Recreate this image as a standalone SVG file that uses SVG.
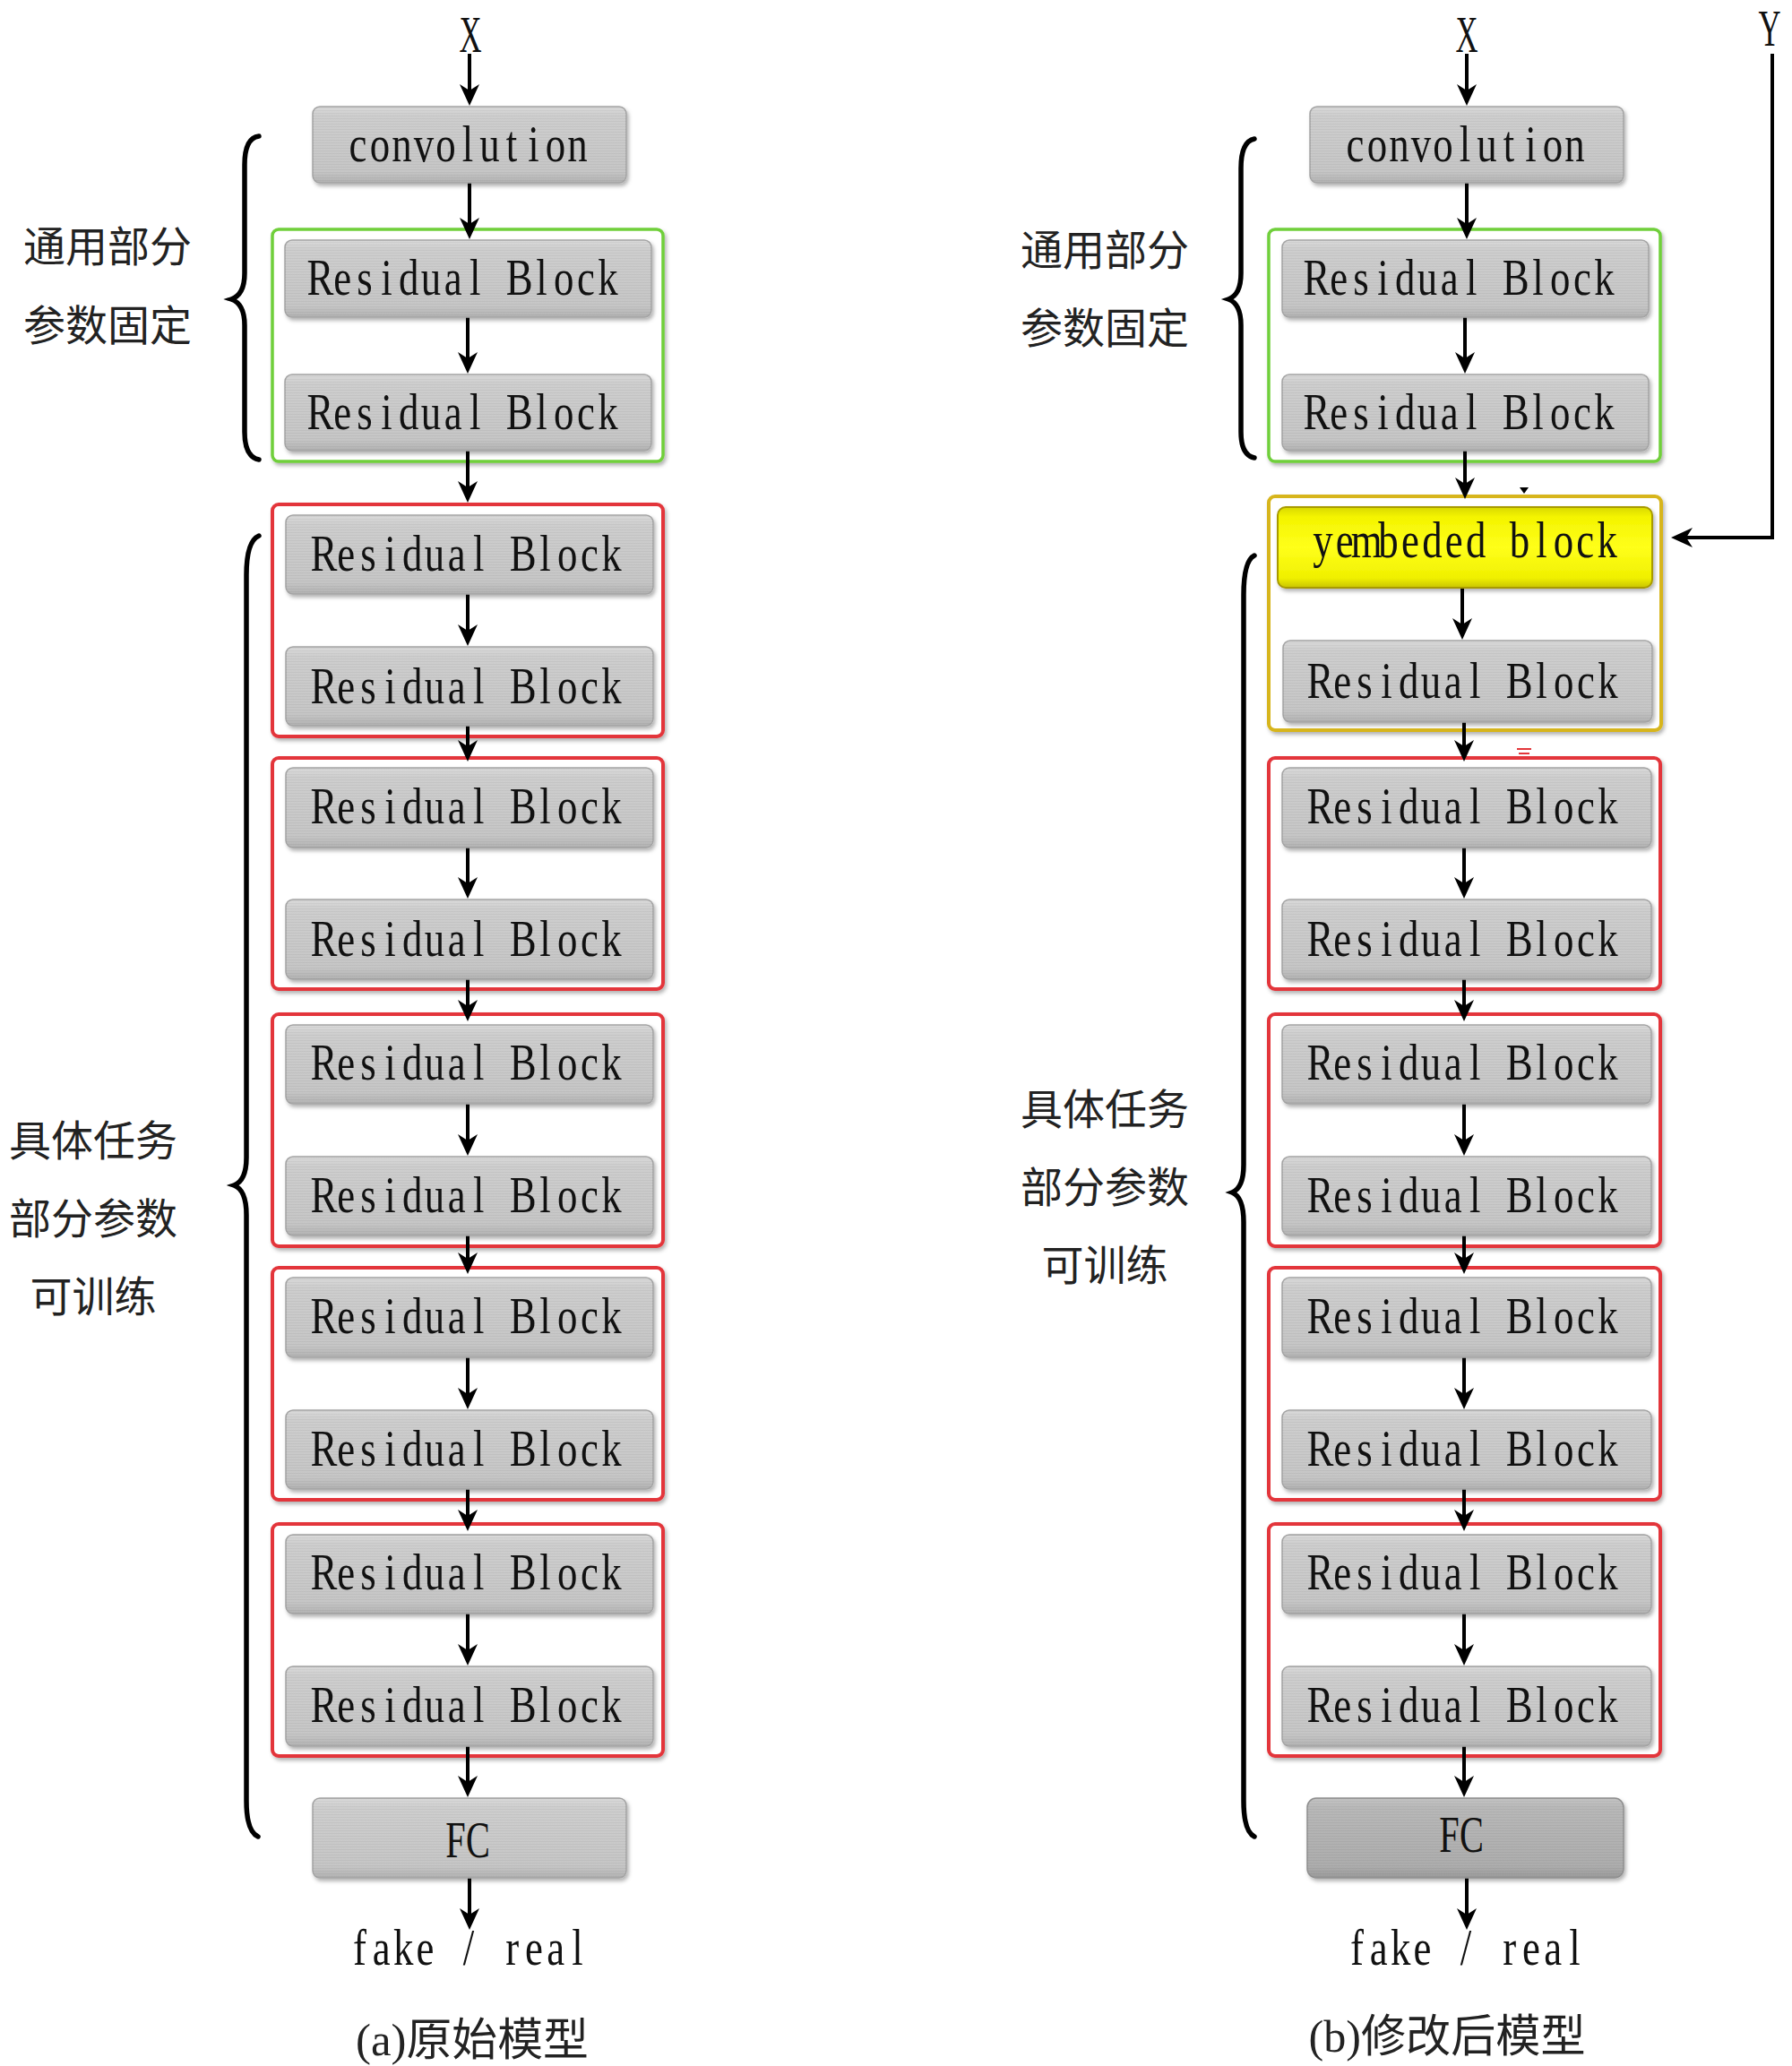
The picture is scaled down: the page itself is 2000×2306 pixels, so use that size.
<svg xmlns="http://www.w3.org/2000/svg" width="2000" height="2306" viewBox="0 0 2000 2306">
<defs>
<linearGradient id="gray" x1="0" y1="0" x2="0" y2="1">
<stop offset="0" stop-color="#dadada"/><stop offset="0.12" stop-color="#cecece"/><stop offset="0.85" stop-color="#c6c6c6"/><stop offset="1" stop-color="#b2b2b2"/>
</linearGradient>
<linearGradient id="gray2" x1="0" y1="0" x2="0" y2="1">
<stop offset="0" stop-color="#c4c4c4"/><stop offset="0.12" stop-color="#b8b8b8"/><stop offset="0.85" stop-color="#adadad"/><stop offset="1" stop-color="#9a9a9a"/>
</linearGradient>
<linearGradient id="yel" x1="0" y1="0" x2="0" y2="1">
<stop offset="0" stop-color="#d8d800"/><stop offset="0.12" stop-color="#f4f400"/><stop offset="0.5" stop-color="#ffff1a"/><stop offset="0.88" stop-color="#f0f000"/><stop offset="1" stop-color="#c8c400"/>
</linearGradient>
<pattern id="stripes" width="4" height="3" patternUnits="userSpaceOnUse"><rect width="4" height="1" fill="#000" opacity="0.045"/></pattern>
<filter id="sh" x="-5%" y="-10%" width="110%" height="125%"><feDropShadow dx="2" dy="3" stdDeviation="2" flood-color="#000" flood-opacity="0.3"/></filter>
<marker id="ah" markerUnits="userSpaceOnUse" markerWidth="24" markerHeight="22" viewBox="0 0 24 22" refX="15" refY="11" orient="auto">
<path d="M0,0 L24,11 L0,22 L7,11 z" fill="#000"/>
</marker>
</defs>
<style>
.box{fill:url(#gray);stroke:#a4a4a4;stroke-width:1.5;filter:url(#sh)}
.box2{fill:url(#gray2);stroke:#909090;stroke-width:1.5;filter:url(#sh)}
.strp{fill:url(#stripes);stroke:none}
.red{fill:#fff;stroke:#e3363b;stroke-width:4;filter:url(#sh)}
.grn{fill:#fff;stroke:#6fcf3a;stroke-width:3.5;filter:url(#sh)}
.gld{fill:#fff;stroke:#d7b51c;stroke-width:4;filter:url(#sh)}
.ybox{fill:url(#yel);stroke:#a89a00;stroke-width:2;filter:url(#sh)}
.m{font-family:"Liberation Serif","DejaVu Serif",serif;font-size:56px;fill:#111;text-anchor:middle}
.cn{font-family:"Noto Sans CJK SC","Liberation Serif",sans-serif;font-size:47px;fill:#222;text-anchor:middle}
.cap{font-family:"Liberation Serif","Noto Sans CJK SC",serif;font-size:50px;fill:#222;text-anchor:middle}
.br{fill:none;stroke:#000;stroke-width:5.5;stroke-linecap:round}
.ar{fill:none;stroke:#000;stroke-width:4;marker-end:url(#ah)}
</style>
<rect width="2000" height="2306" fill="#fff"/>

<!-- frames -->
<g id="frames">
<rect class="grn" x="304" y="256" width="436" height="259" rx="7"/>
<rect class="red" x="304" y="563" width="436" height="259" rx="7"/>
<rect class="red" x="304" y="846" width="436" height="258" rx="7"/>
<rect class="red" x="304" y="1132" width="436" height="259" rx="7"/>
<rect class="red" x="304" y="1415" width="436" height="259" rx="7"/>
<rect class="red" x="304" y="1701" width="436" height="259" rx="7"/>
<rect class="grn" x="1416" y="256" width="437" height="259" rx="7"/>
<rect class="gld" x="1416" y="554" width="438" height="261" rx="7"/>
<rect class="red" x="1416" y="846" width="437" height="258" rx="7"/>
<rect class="red" x="1416" y="1132" width="437" height="259" rx="7"/>
<rect class="red" x="1416" y="1415" width="437" height="259" rx="7"/>
<rect class="red" x="1416" y="1701" width="437" height="259" rx="7"/>
</g>

<!-- braces -->
<g id="braces">
<path class="br" d="M289,152 Q273,154 273,184 L273,305 Q273,329 258,334 Q273,339 273,363 L273,482 Q273,510 289,513"/>
<path class="br" d="M289,598 Q275,604 275,642 L275,1292 Q275,1318 261,1323 Q275,1328 275,1356 L275,2010 Q275,2044 288,2050"/>
<path class="br" d="M1400,155 Q1385,158 1385,188 L1385,305 Q1385,329 1371,334 Q1385,339 1385,363 L1385,482 Q1385,508 1400,511"/>
<path class="br" d="M1400,620 Q1388,626 1388,664 L1388,1300 Q1388,1326 1375,1331 Q1388,1336 1388,1364 L1388,2010 Q1388,2044 1400,2050"/>
</g>

<!-- connectors -->
<g id="connectors">
<line class="ar" x1="524" y1="60" x2="524" y2="109"/>
<line class="ar" x1="524" y1="204" x2="524" y2="258"/>
<line class="ar" x1="522" y1="354" x2="522" y2="408"/>
<line class="ar" x1="522" y1="503" x2="522" y2="552"/>
<line class="ar" x1="522" y1="663" x2="522" y2="712"/>
<line class="ar" x1="522" y1="810" x2="522" y2="841"/>
<line class="ar" x1="522" y1="946" x2="522" y2="994"/>
<line class="ar" x1="522" y1="1093" x2="522" y2="1131"/>
<line class="ar" x1="522" y1="1232" x2="522" y2="1281"/>
<line class="ar" x1="522" y1="1379" x2="522" y2="1413"/>
<line class="ar" x1="522" y1="1515" x2="522" y2="1564"/>
<line class="ar" x1="522" y1="1662" x2="522" y2="1700"/>
<line class="ar" x1="522" y1="1801" x2="522" y2="1850"/>
<line class="ar" x1="522" y1="1949" x2="522" y2="1997"/>
<line class="ar" x1="524" y1="2096" x2="524" y2="2145"/>

<line class="ar" x1="1637" y1="60" x2="1637" y2="109"/>
<line class="ar" x1="1637" y1="204" x2="1637" y2="258"/>
<line class="ar" x1="1635" y1="354" x2="1635" y2="408"/>
<line class="ar" x1="1635" y1="503" x2="1635" y2="548"/>
<line class="ar" x1="1632" y1="656" x2="1632" y2="705"/>
<line class="ar" x1="1634" y1="806" x2="1634" y2="841"/>
<line class="ar" x1="1634" y1="946" x2="1634" y2="994"/>
<line class="ar" x1="1634" y1="1093" x2="1634" y2="1131"/>
<line class="ar" x1="1634" y1="1232" x2="1634" y2="1281"/>
<line class="ar" x1="1634" y1="1379" x2="1634" y2="1413"/>
<line class="ar" x1="1634" y1="1515" x2="1634" y2="1564"/>
<line class="ar" x1="1634" y1="1662" x2="1634" y2="1700"/>
<line class="ar" x1="1634" y1="1801" x2="1634" y2="1850"/>
<line class="ar" x1="1634" y1="1949" x2="1634" y2="1997"/>
<line class="ar" x1="1637" y1="2096" x2="1637" y2="2145"/>

<path class="ar" d="M1978,60 L1978,600 L1874,600"/>
<path d="M1696,544 L1706,544 L1701,551 z" fill="#000"/>
<path d="M1693,836 L1709,836 M1695,841 L1707,841" stroke="#e3363b" stroke-width="2"/>
</g>

<!-- left model (a) -->
<g id="a-x"><text class="m" transform="translate(525,58) scale(0.62,1)" x="0" y="0">X</text></g>
<g id="a-conv"><rect class="box" x="349" y="119" width="350" height="85" rx="8"/><rect class="strp" x="349" y="119" width="350" height="85" rx="8"/><text class="m" transform="translate(522,180) scale(0.8,1)" x="-153.1 -122.5 -91.9 -61.3 -30.6 0 30.6 61.3 91.9 122.5 153.1" y="0">convolution</text></g>
<g id="a-rb1"><rect class="box" x="318" y="268" width="409" height="86" rx="8"/><rect class="strp" x="318" y="268" width="409" height="86" rx="8"/><text class="m" transform="translate(518,329) scale(0.8,1)" x="-200.7 -169.8 -138.9 -108.1 -77.2 -46.3 -15.4 15.4 46.3 77.2 108.1 138.9 169.8 200.7" y="0">Residual Block</text></g>
<g id="a-rb2"><rect class="box" x="318" y="418" width="409" height="85" rx="8"/><rect class="strp" x="318" y="418" width="409" height="85" rx="8"/><text class="m" transform="translate(518,479) scale(0.8,1)" x="-200.7 -169.8 -138.9 -108.1 -77.2 -46.3 -15.4 15.4 46.3 77.2 108.1 138.9 169.8 200.7" y="0">Residual Block</text></g>
<g id="a-rb3"><rect class="box" x="319" y="575" width="410" height="88" rx="8"/><rect class="strp" x="319" y="575" width="410" height="88" rx="8"/><text class="m" transform="translate(522,637) scale(0.8,1)" x="-200.7 -169.8 -138.9 -108.1 -77.2 -46.3 -15.4 15.4 46.3 77.2 108.1 138.9 169.8 200.7" y="0">Residual Block</text></g>
<g id="a-rb4"><rect class="box" x="319" y="722" width="410" height="88" rx="8"/><rect class="strp" x="319" y="722" width="410" height="88" rx="8"/><text class="m" transform="translate(522,785) scale(0.8,1)" x="-200.7 -169.8 -138.9 -108.1 -77.2 -46.3 -15.4 15.4 46.3 77.2 108.1 138.9 169.8 200.7" y="0">Residual Block</text></g>
<g id="a-rb5"><rect class="box" x="319" y="857" width="410" height="89" rx="8"/><rect class="strp" x="319" y="857" width="410" height="89" rx="8"/><text class="m" transform="translate(522,919) scale(0.8,1)" x="-200.7 -169.8 -138.9 -108.1 -77.2 -46.3 -15.4 15.4 46.3 77.2 108.1 138.9 169.8 200.7" y="0">Residual Block</text></g>
<g id="a-rb6"><rect class="box" x="319" y="1004" width="410" height="89" rx="8"/><rect class="strp" x="319" y="1004" width="410" height="89" rx="8"/><text class="m" transform="translate(522,1067) scale(0.8,1)" x="-200.7 -169.8 -138.9 -108.1 -77.2 -46.3 -15.4 15.4 46.3 77.2 108.1 138.9 169.8 200.7" y="0">Residual Block</text></g>
<g id="a-rb7"><rect class="box" x="319" y="1144" width="410" height="88" rx="8"/><rect class="strp" x="319" y="1144" width="410" height="88" rx="8"/><text class="m" transform="translate(522,1205) scale(0.8,1)" x="-200.7 -169.8 -138.9 -108.1 -77.2 -46.3 -15.4 15.4 46.3 77.2 108.1 138.9 169.8 200.7" y="0">Residual Block</text></g>
<g id="a-rb8"><rect class="box" x="319" y="1291" width="410" height="88" rx="8"/><rect class="strp" x="319" y="1291" width="410" height="88" rx="8"/><text class="m" transform="translate(522,1353) scale(0.8,1)" x="-200.7 -169.8 -138.9 -108.1 -77.2 -46.3 -15.4 15.4 46.3 77.2 108.1 138.9 169.8 200.7" y="0">Residual Block</text></g>
<g id="a-rb9"><rect class="box" x="319" y="1426" width="410" height="89" rx="8"/><rect class="strp" x="319" y="1426" width="410" height="89" rx="8"/><text class="m" transform="translate(522,1488) scale(0.8,1)" x="-200.7 -169.8 -138.9 -108.1 -77.2 -46.3 -15.4 15.4 46.3 77.2 108.1 138.9 169.8 200.7" y="0">Residual Block</text></g>
<g id="a-rb10"><rect class="box" x="319" y="1574" width="410" height="88" rx="8"/><rect class="strp" x="319" y="1574" width="410" height="88" rx="8"/><text class="m" transform="translate(522,1636) scale(0.8,1)" x="-200.7 -169.8 -138.9 -108.1 -77.2 -46.3 -15.4 15.4 46.3 77.2 108.1 138.9 169.8 200.7" y="0">Residual Block</text></g>
<g id="a-rb11"><rect class="box" x="319" y="1713" width="410" height="88" rx="8"/><rect class="strp" x="319" y="1713" width="410" height="88" rx="8"/><text class="m" transform="translate(522,1774) scale(0.8,1)" x="-200.7 -169.8 -138.9 -108.1 -77.2 -46.3 -15.4 15.4 46.3 77.2 108.1 138.9 169.8 200.7" y="0">Residual Block</text></g>
<g id="a-rb12"><rect class="box" x="319" y="1860" width="410" height="89" rx="8"/><rect class="strp" x="319" y="1860" width="410" height="89" rx="8"/><text class="m" transform="translate(522,1922) scale(0.8,1)" x="-200.7 -169.8 -138.9 -108.1 -77.2 -46.3 -15.4 15.4 46.3 77.2 108.1 138.9 169.8 200.7" y="0">Residual Block</text></g>
<g id="a-fc"><rect class="box" x="349" y="2007" width="350" height="89" rx="8"/><rect class="strp" x="349" y="2007" width="350" height="89" rx="8"/><text class="m" transform="translate(521,2073) scale(0.72,1)" x="-17.4 17.4" y="0">FC</text></g>
<g id="a-out"><text class="m" transform="translate(523,2193) scale(0.8,1)" x="-151.9 -121.5 -91.1 -60.8 -30.4 0 30.4 60.8 91.1 121.5 151.9" y="0">fake / real</text></g>
<g id="a-lab1"><text class="cn" x="120" y="292">通用部分</text><text class="cn" x="120" y="380">参数固定</text></g>
<g id="a-lab2"><text class="cn" x="104" y="1290">具体任务</text><text class="cn" x="104" y="1377">部分参数</text><text class="cn" x="104" y="1464">可训练</text></g>
<g id="a-cap"><text class="cap" x="527" y="2294" textLength="260" lengthAdjust="spacingAndGlyphs">(a)原始模型</text></g>

<!-- right model (b) -->
<g id="b-x"><text class="m" transform="translate(1637,58) scale(0.62,1)" x="0" y="0">X</text></g>
<g id="b-y"><text class="m" transform="translate(1975,51) scale(0.62,1)" x="0" y="0">Y</text></g>
<g id="b-conv"><rect class="box" x="1462" y="119" width="350" height="85" rx="8"/><rect class="strp" x="1462" y="119" width="350" height="85" rx="8"/><text class="m" transform="translate(1635,180) scale(0.8,1)" x="-153.1 -122.5 -91.9 -61.3 -30.6 0 30.6 61.3 91.9 122.5 153.1" y="0">convolution</text></g>
<g id="b-rb1"><rect class="box" x="1431" y="268" width="409" height="86" rx="8"/><rect class="strp" x="1431" y="268" width="409" height="86" rx="8"/><text class="m" transform="translate(1630,329) scale(0.8,1)" x="-200.7 -169.8 -138.9 -108.1 -77.2 -46.3 -15.4 15.4 46.3 77.2 108.1 138.9 169.8 200.7" y="0">Residual Block</text></g>
<g id="b-rb2"><rect class="box" x="1431" y="418" width="409" height="85" rx="8"/><rect class="strp" x="1431" y="418" width="409" height="85" rx="8"/><text class="m" transform="translate(1630,479) scale(0.8,1)" x="-200.7 -169.8 -138.9 -108.1 -77.2 -46.3 -15.4 15.4 46.3 77.2 108.1 138.9 169.8 200.7" y="0">Residual Block</text></g>
<g id="b-emb"><rect class="ybox" x="1426" y="566" width="418" height="90" rx="9"/><text class="m" transform="translate(1635,622) scale(0.8,1)" x="-198.3 -167.8 -137.3 -106.8 -76.3 -45.8 -15.3 15.3 45.8 76.3 106.8 137.3 167.8 198.3" y="0">yembeded block</text></g>
<g id="b-rb3"><rect class="box" x="1432" y="715" width="412" height="91" rx="8"/><rect class="strp" x="1432" y="715" width="412" height="91" rx="8"/><text class="m" transform="translate(1634,779) scale(0.8,1)" x="-200.7 -169.8 -138.9 -108.1 -77.2 -46.3 -15.4 15.4 46.3 77.2 108.1 138.9 169.8 200.7" y="0">Residual Block</text></g>
<g id="b-rb5"><rect class="box" x="1431" y="857" width="412" height="89" rx="8"/><rect class="strp" x="1431" y="857" width="412" height="89" rx="8"/><text class="m" transform="translate(1634,919) scale(0.8,1)" x="-200.7 -169.8 -138.9 -108.1 -77.2 -46.3 -15.4 15.4 46.3 77.2 108.1 138.9 169.8 200.7" y="0">Residual Block</text></g>
<g id="b-rb6"><rect class="box" x="1431" y="1004" width="412" height="89" rx="8"/><rect class="strp" x="1431" y="1004" width="412" height="89" rx="8"/><text class="m" transform="translate(1634,1067) scale(0.8,1)" x="-200.7 -169.8 -138.9 -108.1 -77.2 -46.3 -15.4 15.4 46.3 77.2 108.1 138.9 169.8 200.7" y="0">Residual Block</text></g>
<g id="b-rb7"><rect class="box" x="1431" y="1144" width="412" height="88" rx="8"/><rect class="strp" x="1431" y="1144" width="412" height="88" rx="8"/><text class="m" transform="translate(1634,1205) scale(0.8,1)" x="-200.7 -169.8 -138.9 -108.1 -77.2 -46.3 -15.4 15.4 46.3 77.2 108.1 138.9 169.8 200.7" y="0">Residual Block</text></g>
<g id="b-rb8"><rect class="box" x="1431" y="1291" width="412" height="88" rx="8"/><rect class="strp" x="1431" y="1291" width="412" height="88" rx="8"/><text class="m" transform="translate(1634,1353) scale(0.8,1)" x="-200.7 -169.8 -138.9 -108.1 -77.2 -46.3 -15.4 15.4 46.3 77.2 108.1 138.9 169.8 200.7" y="0">Residual Block</text></g>
<g id="b-rb9"><rect class="box" x="1431" y="1426" width="412" height="89" rx="8"/><rect class="strp" x="1431" y="1426" width="412" height="89" rx="8"/><text class="m" transform="translate(1634,1488) scale(0.8,1)" x="-200.7 -169.8 -138.9 -108.1 -77.2 -46.3 -15.4 15.4 46.3 77.2 108.1 138.9 169.8 200.7" y="0">Residual Block</text></g>
<g id="b-rb10"><rect class="box" x="1431" y="1574" width="412" height="88" rx="8"/><rect class="strp" x="1431" y="1574" width="412" height="88" rx="8"/><text class="m" transform="translate(1634,1636) scale(0.8,1)" x="-200.7 -169.8 -138.9 -108.1 -77.2 -46.3 -15.4 15.4 46.3 77.2 108.1 138.9 169.8 200.7" y="0">Residual Block</text></g>
<g id="b-rb11"><rect class="box" x="1431" y="1713" width="412" height="88" rx="8"/><rect class="strp" x="1431" y="1713" width="412" height="88" rx="8"/><text class="m" transform="translate(1634,1774) scale(0.8,1)" x="-200.7 -169.8 -138.9 -108.1 -77.2 -46.3 -15.4 15.4 46.3 77.2 108.1 138.9 169.8 200.7" y="0">Residual Block</text></g>
<g id="b-rb12"><rect class="box" x="1431" y="1860" width="412" height="89" rx="8"/><rect class="strp" x="1431" y="1860" width="412" height="89" rx="8"/><text class="m" transform="translate(1634,1922) scale(0.8,1)" x="-200.7 -169.8 -138.9 -108.1 -77.2 -46.3 -15.4 15.4 46.3 77.2 108.1 138.9 169.8 200.7" y="0">Residual Block</text></g>
<g id="b-fc"><rect class="box2" x="1459" y="2007" width="353" height="89" rx="10"/><rect class="strp" x="1459" y="2007" width="353" height="89" rx="10"/><text class="m" transform="translate(1630,2067) scale(0.72,1)" x="-17.4 17.4" y="0">FC</text></g>
<g id="b-out"><text class="m" transform="translate(1636,2193) scale(0.8,1)" x="-151.9 -121.5 -91.1 -60.8 -30.4 0 30.4 60.8 91.1 121.5 151.9" y="0">fake / real</text></g>
<g id="b-lab1"><text class="cn" x="1233" y="296">通用部分</text><text class="cn" x="1233" y="383">参数固定</text></g>
<g id="b-lab2"><text class="cn" x="1233" y="1255">具体任务</text><text class="cn" x="1233" y="1342">部分参数</text><text class="cn" x="1233" y="1429">可训练</text></g>
<g id="b-cap"><text class="cap" x="1615" y="2290" textLength="309" lengthAdjust="spacingAndGlyphs">(b)修改后模型</text></g>
</svg>
